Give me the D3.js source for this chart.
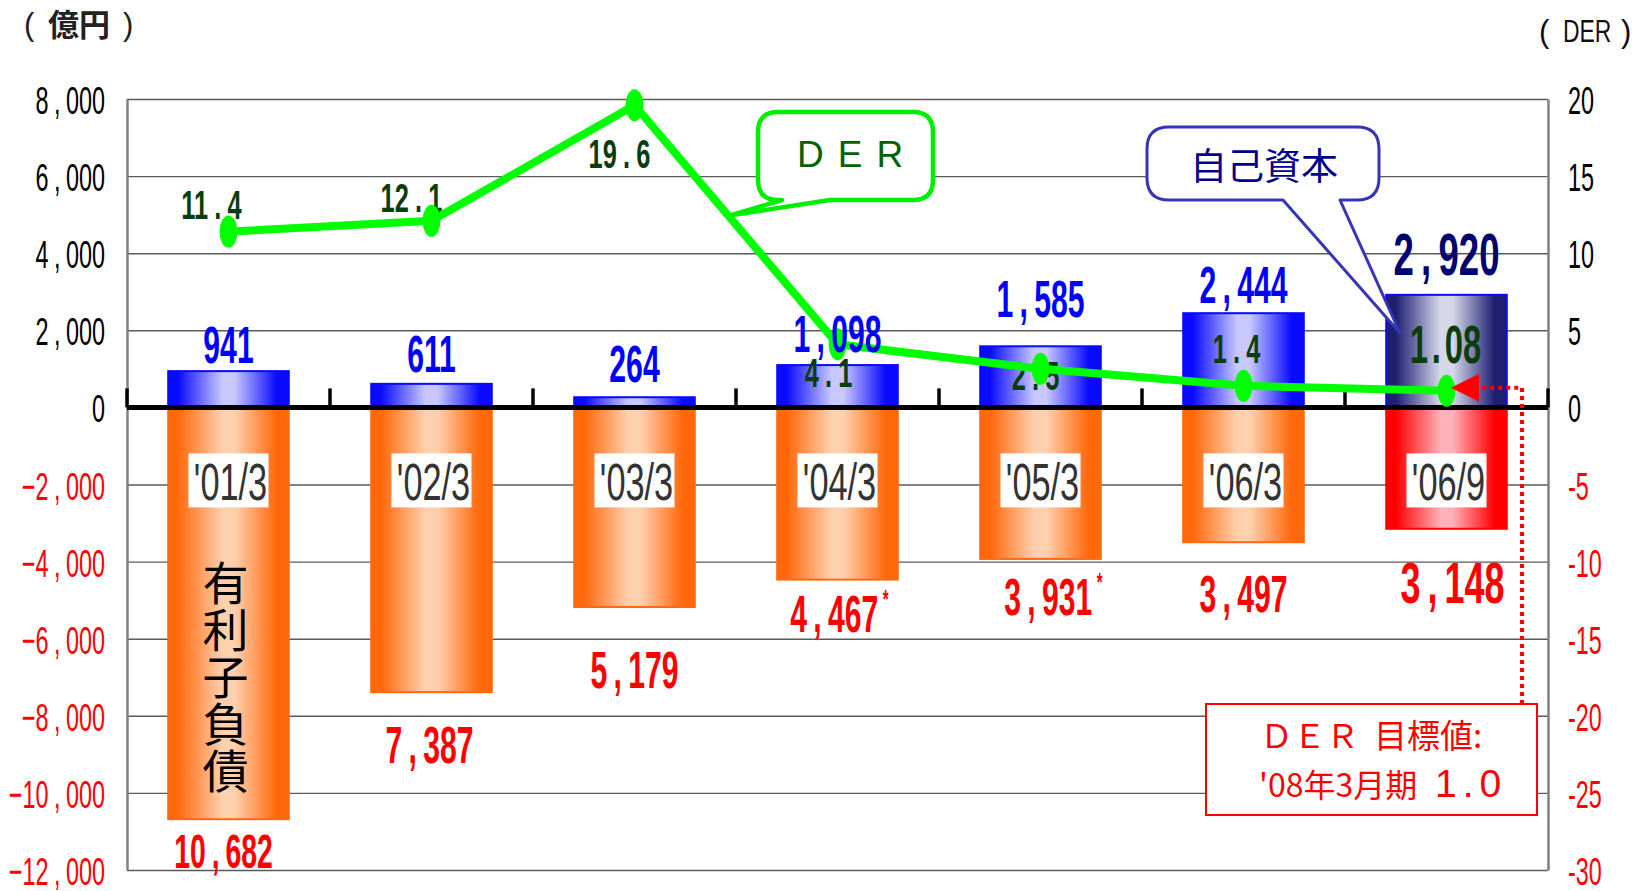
<!DOCTYPE html>
<html>
<head>
<meta charset="utf-8">
<script src="https://cdn.jsdelivr.net/npm/d3@7.9.0/dist/d3.min.js"></script>
<style>
  html, body { margin: 0; padding: 0; background: #fff; }
  svg { display: block; }
</style>
</head>
<body>
<svg id="chart" width="1635" height="891"></svg>
<script>
// data
const categories = ["'01/3", "'02/3", "'03/3", "'04/3", "'05/3", "'06/3", "'06/9"];
const equity = [941, 611, 264, 1098, 1585, 2444, 2920];
const debt = [10682, 7387, 5179, 4467, 3931, 3497, 3148];
const debtMarks = ['', '', '', '*', '*', '', ''];
const der = [11.4, 12.1, 19.6, 4.1, 2.5, 1.4, 1.08];
const derTarget = 1.0;
const leftTicks = d3.range(-12000, 8001, 2000);
const rightTicks = d3.range(-30, 21, 5);

// label nudges (px), layout only
const equityGap = [8, 12, 15, 13, 29, 10, 20];
const debtGap = [49, 71, 81, 52, 56, 70, 74];
const debtDx = [-5, -2, 0, 2, 13, 0, 6];
const derDx = [-17, -20, -15, -9, -5, -7, -1];
const derDy = [-13, -9, 63, 43, 21, -23, -28];

const NUM_FONT = '"Liberation Sans", Arial, sans-serif';
const JP_FONT = '"Noto Sans CJK JP", "Noto Sans CJK SC", sans-serif';

const plot = { left: 127, right: 1548, top: 99, bottom: 870 };
const svg = d3.select('#chart');
const defs = svg.append('defs');

const x = d3.scaleBand().domain(categories)
  .range([plot.left, plot.right]).paddingInner(0.406).paddingOuter(0.203);
const slot = d3.scaleBand().domain(categories).range([plot.left, plot.right]);
const cx = c => x(c) + x.bandwidth() / 2;
const yL = d3.scaleLinear().domain([-12000, 8000]).range([plot.bottom, plot.top]);
const yR = d3.scaleLinear().domain([-30, 20]).range([plot.bottom, plot.top]);
const y0 = yL(0);

function hGrad(id, edge, mid) {
  const g = defs.append('linearGradient').attr('id', id)
    .attr('x1', '0%').attr('x2', '100%').attr('y1', '0%').attr('y2', '0%');
  [[0, edge], [0.08, edge], [0.45, mid], [0.55, mid], [0.9, edge], [1, edge]]
    .forEach(([o, c]) => g.append('stop').attr('offset', o).attr('stop-color', c));
}
hGrad('gBlue', '#0a0aff', '#c8c8ff');
hGrad('gNavy', '#1f1f72', '#d6d8ea');
hGrad('gOrange', '#ff680a', '#ffd0ae');
hGrad('gRed', '#ff0000', '#ffb0b8');

// condensed numeric text, with room round the separators like the original font
function numText(g, px, py, str, o) {
  const t = g.append('text')
    .attr('transform', `translate(${px},${py}) scale(${o.sx},1)`)
    .attr('text-anchor', o.anchor || 'middle')
    .attr('font-family', NUM_FONT)
    .attr('font-size', o.size)
    .attr('font-weight', o.weight || 'normal')
    .attr('fill', o.color);
  const gap = (o.gap ?? 0.24) * o.size / 2 / o.sx;
  const parts = str.split(/([,.])/).filter(s => s !== '');
  let afterSep = false;
  parts.forEach(p => {
    const isSep = p === ',' || p === '.';
    t.append('tspan').attr('dx', isSep || afterSep ? gap : 0).text(p);
    afterSep = isSep;
  });
  return t;
}

// gridlines
svg.append('g')
  .attr('transform', `translate(${plot.left},0)`)
  .call(d3.axisLeft(yL).tickValues(leftTicks.filter(d => d !== 0))
    .tickSize(-(plot.right - plot.left)).tickFormat(''))
  .call(g => g.select('.domain').remove())
  .call(g => g.selectAll('.tick line').attr('stroke', '#5a5a5a').attr('stroke-width', 1.4));

// side axes
svg.append('g')
  .attr('transform', `translate(${plot.left},0)`)
  .call(d3.axisLeft(yL).tickValues([]).tickSizeOuter(0))
  .call(g => g.select('.domain').attr('stroke', '#808080').attr('stroke-width', 2.5));
svg.append('g')
  .attr('transform', `translate(${plot.right},0)`)
  .call(d3.axisRight(yR).tickValues([]).tickSizeOuter(0))
  .call(g => g.select('.domain').attr('stroke', '#808080').attr('stroke-width', 2.5));

// tick labels
const tickG = svg.append('g');
leftTicks.forEach(t => {
  numText(tickG, 105, yL(t) + 15, d3.format(',')(t), {
    size: 39, sx: 0.6, anchor: 'end', color: t < 0 ? '#ff0000' : '#000', gap: 0.28
  });
});
rightTicks.forEach(t => {
  numText(tickG, 1568, yR(t) + 15, String(t), {
    size: 39, sx: 0.6, anchor: 'start', color: t < 0 ? '#ff0000' : '#000'
  });
});

// unit titles
const titleG = svg.append('g');
titleG.append('text').attr('x', 24).attr('y', 35).attr('font-family', NUM_FONT)
  .attr('font-size', 31).attr('fill', '#222').text('(');
titleG.append('text').attr('x', 48).attr('y', 36).attr('font-family', JP_FONT)
  .attr('font-size', 31).attr('font-weight', 'bold').attr('fill', '#222').text('億円');
titleG.append('text').attr('x', 123).attr('y', 35).attr('font-family', NUM_FONT)
  .attr('font-size', 31).attr('fill', '#222').text(')');
titleG.append('text').attr('x', 1539).attr('y', 42).attr('font-family', NUM_FONT)
  .attr('font-size', 31).attr('fill', '#111').text('(');
titleG.append('text').attr('transform', 'translate(1563,42) scale(0.74,1)')
  .attr('font-family', NUM_FONT).attr('font-size', 31).attr('fill', '#111').text('DER');
titleG.append('text').attr('x', 1621).attr('y', 42).attr('font-family', NUM_FONT)
  .attr('font-size', 31).attr('fill', '#111').text(')');

// bars
const barG = svg.append('g');
const last = categories.length - 1;
barG.selectAll('rect.eq').data(categories).join('rect').attr('class', 'eq')
  .attr('x', d => x(d))
  .attr('y', (d, i) => yL(equity[i]))
  .attr('width', x.bandwidth())
  .attr('height', (d, i) => y0 - yL(equity[i]))
  .attr('fill', (d, i) => i === last ? 'url(#gNavy)' : 'url(#gBlue)')
  .attr('stroke', '#0a0aff').attr('stroke-width', 2);
barG.selectAll('rect.debt').data(categories).join('rect').attr('class', 'debt')
  .attr('x', d => x(d))
  .attr('y', y0)
  .attr('width', x.bandwidth())
  .attr('height', (d, i) => yL(-debt[i]) - y0)
  .attr('fill', (d, i) => i === last ? 'url(#gRed)' : 'url(#gOrange)')
  .attr('stroke', (d, i) => i === last ? '#ff0000' : '#ff6a10').attr('stroke-width', 2);

// category labels in white boxes
const catG = svg.append('g');
categories.forEach(c => {
  catG.append('rect').attr('x', cx(c) - 40).attr('y', y0 + 46)
    .attr('width', 80).attr('height', 54).attr('fill', '#fff');
  catG.append('text')
    .attr('transform', `translate(${cx(c) + 2},${y0 + 93}) scale(0.66,1)`)
    .attr('text-anchor', 'middle').attr('font-family', NUM_FONT)
    .attr('font-size', 52).attr('fill', '#333').text(c);
});

// zero line and category ticks
svg.append('line').attr('x1', plot.left).attr('x2', plot.right)
  .attr('y1', y0).attr('y2', y0).attr('stroke', '#000').attr('stroke-width', 5);
const bounds = categories.map(c => slot(c)).concat([plot.right]);
svg.append('g').selectAll('line').data(bounds).join('line')
  .attr('x1', d => d).attr('x2', d => d)
  .attr('y1', y0 - 19).attr('y2', y0)
  .attr('stroke', '#000').attr('stroke-width', 3.5);

// vertical caption inside the first debt bar
const capG = svg.append('g');
Array.from('有利子負債').forEach((ch, i) => {
  capG.append('text').attr('x', cx(categories[0]) - 3).attr('y', 580 + i * 47)
    .attr('text-anchor', 'middle').attr('dominant-baseline', 'central')
    .attr('font-family', JP_FONT).attr('font-size', 46).attr('fill', '#000').text(ch);
});

// DER labels (under the line)
const derLabG = svg.append('g');
der.forEach((v, i) => {
  const c = categories[i];
  numText(derLabG, cx(c) + derDx[i], yR(v) + derDy[i], String(v), {
    size: i === last ? 53 : 41, sx: 0.62, color: '#0b3d0b', weight: 'bold',
    gap: i === last ? 0.14 : 0.3
  });
});

// DER line
const line = d3.line().x((d, i) => cx(categories[i])).y(d => yR(d));
svg.append('path').datum(der).attr('d', line)
  .attr('fill', 'none').attr('stroke', '#00ff00').attr('stroke-width', 8)
  .attr('stroke-linejoin', 'round');
svg.append('g').selectAll('ellipse').data(der).join('ellipse')
  .attr('cx', (d, i) => cx(categories[i])).attr('cy', d => yR(d))
  .attr('rx', 9).attr('ry', 16).attr('fill', '#00ff00');

// value labels
const valG = svg.append('g');
equity.forEach((v, i) => {
  numText(valG, cx(categories[i]), yL(v) - equityGap[i], d3.format(',')(v), {
    size: i === last ? 60 : 52, sx: i === last ? 0.61 : 0.58, weight: 'bold',
    color: i === last ? '#00006e' : '#0000ff'
  });
});
debt.forEach((v, i) => {
  const t = numText(valG, cx(categories[i]) + debtDx[i], yL(-v) + debtGap[i], d3.format(',')(v), {
    size: i === last ? 58 : (i === 0 ? 49 : 52), sx: i === last ? 0.62 : 0.58,
    weight: 'bold', color: '#ff0000'
  });
  if (debtMarks[i]) {
    t.append('tspan').attr('dx', 8).attr('dy', -24).attr('font-size', 26).text(debtMarks[i]);
  }
});

// callout: DER
function callout(x0, y0c, x1, y1, r, b1, b2, tx, ty) {
  return `M${x0 + r},${y0c} H${x1 - r} Q${x1},${y0c} ${x1},${y0c + r} V${y1 - r} Q${x1},${y1} ${x1 - r},${y1}` +
    ` H${b2} L${tx},${ty} L${b1},${y1} H${x0 + r} Q${x0},${y1} ${x0},${y1 - r} V${y0c + r} Q${x0},${y0c} ${x0 + r},${y0c} Z`;
}
const derTip = [732, 215];
svg.append('path').attr('d', callout(758, 112, 933, 200, 20, 782, 830, derTip[0], derTip[1]))
  .attr('fill', '#fff').attr('stroke', '#00ee00').attr('stroke-width', 4.5)
  .attr('stroke-linejoin', 'round');
svg.append('text').attr('x', 797).attr('y', 167)
  .attr('font-family', NUM_FONT).attr('font-size', 37).attr('letter-spacing', 14)
  .attr('fill', '#006400').text('DER');

// callout: 自己資本
svg.append('path').attr('d', callout(1147, 127, 1379, 200, 22, 1283, 1340, 1400, 333))
  .attr('fill', '#fff').attr('stroke', '#3535b5').attr('stroke-width', 3)
  .attr('stroke-linejoin', 'round');
svg.append('text').attr('x', 1264).attr('y', 180).attr('text-anchor', 'middle')
  .attr('font-family', JP_FONT).attr('font-size', 37).attr('fill', '#00008a').text('自己資本');

// target marker: dotted lead and arrow head
const tgtY = yR(der[last]) - 3;
svg.append('path').attr('d', `M1522,704 V${tgtY} H1478`)
  .attr('fill', 'none').attr('stroke', '#ff0000').attr('stroke-width', 4)
  .attr('stroke-dasharray', '4,4');
svg.append('path').attr('d', `M1451,${tgtY} L1479,${tgtY - 14} L1479,${tgtY + 14} Z`)
  .attr('fill', '#ff0000');

// target box
svg.append('rect').attr('x', 1206).attr('y', 704).attr('width', 331).attr('height', 111)
  .attr('fill', '#fff').attr('stroke', '#ff0000').attr('stroke-width', 2);
const t1 = svg.append('text').attr('y', 748).attr('font-family', JP_FONT)
  .attr('font-size', 33).attr('fill', '#ff0000');
t1.append('tspan').attr('x', 1260).text('ＤＥＲ');
t1.append('tspan').attr('x', 1374).text('目標値:');
const t2 = svg.append('text').attr('y', 797).attr('font-family', JP_FONT)
  .attr('font-size', 32).attr('fill', '#ff0000');
t2.append('tspan').attr('x', 1259).text("'08年3月期");
svg.append('text').attr('x', 1435).attr('y', 797).attr('font-family', NUM_FONT)
  .attr('font-size', 39).attr('letter-spacing', 6).attr('fill', '#ff0000')
  .text(d3.format('.1f')(derTarget));
</script>
</body>
</html>
